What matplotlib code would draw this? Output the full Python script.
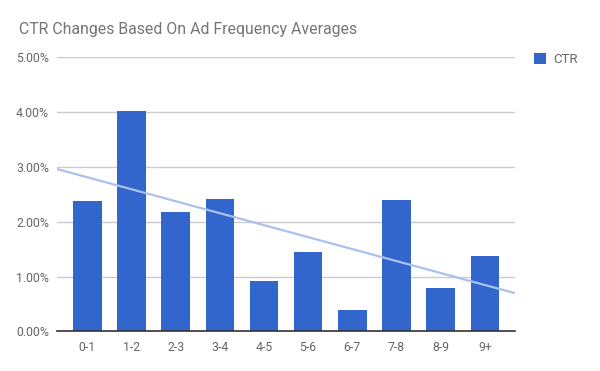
import numpy as np
import matplotlib
matplotlib.use("Agg")
import matplotlib.pyplot as plt
from matplotlib.ticker import FuncFormatter

plt.rcParams['font.family'] = ['Roboto', 'DejaVu Sans']

categories = ['0-1', '1-2', '2-3', '3-4', '4-5', '5-6', '6-7', '7-8', '8-9', '9+']
ctr = [2.37, 4.02, 2.17, 2.41, 0.92, 1.45, 0.39, 2.39, 0.79, 1.37]  # percent
yticks = [0, 1, 2, 3, 4, 5]

bar_color = '#3366cc'
trend_color = '#aac1ef'
text_gray = '#757575'

fig = plt.figure(figsize=(6, 3.71), dpi=100)
ax = fig.add_axes([0.0955, 0.107, 0.7625, 0.7385])

x = np.arange(len(categories))
ax.bar(x, ctr, width=0.645, color=bar_color, zorder=3, label='CTR')

# linear trendline across the whole plot width
slope, icpt = np.polyfit(x, ctr, 1)
xl = np.array([-0.68, len(categories) - 1 + 0.68])
ax.plot(xl, slope * xl + icpt, color=trend_color, lw=1.6, zorder=4)

ax.set_xlim(xl[0], xl[1])
ax.set_ylim(0, 5)
ax.set_yticks(yticks)
ax.yaxis.set_major_formatter(FuncFormatter(lambda v, p: '%.2f%%' % v))
ax.set_xticks(x)
ax.set_xticklabels(categories)
ax.grid(axis='y', color='#cccccc', lw=1, zorder=0)
for s in ['top', 'right', 'left']:
    ax.spines[s].set_visible(False)
ax.spines['bottom'].set_color('#333333')
ax.spines['bottom'].set_linewidth(1.2)
ax.spines['bottom'].set_zorder(5)
ax.tick_params(length=0, labelsize=8.8, labelcolor='#666666')
ax.tick_params(axis='y', pad=6)
ax.tick_params(axis='x', pad=7)

fig.text(19 / 600, 1 - 34 / 371, 'CTR Changes Based On Ad Frequency Averages',
         fontsize=11.45, color=text_gray, ha='left', va='baseline')

ax.legend(loc='upper left', bbox_to_anchor=(522 / 600, 1 - 41 / 371),
          bbox_transform=fig.transFigure, frameon=False, fontsize=9.5,
          handlelength=0.9, handleheight=0.9, handletextpad=0.6,
          labelcolor='#666666')

plt.savefig('out.png', dpi=100)
